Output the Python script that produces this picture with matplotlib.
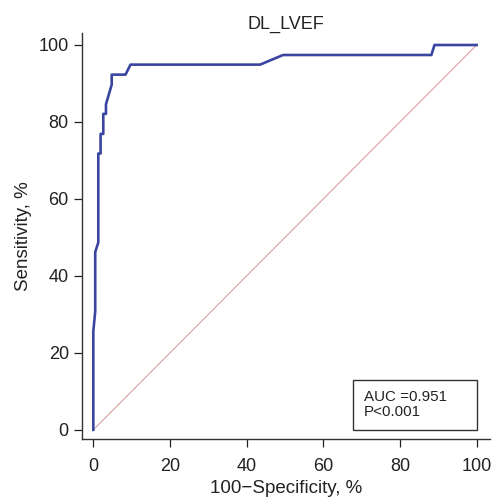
import matplotlib
matplotlib.use("Agg")
import matplotlib.pyplot as plt

plt.rcParams['font.family'] = ['Liberation Sans', 'DejaVu Sans']

# ROC curve points (100-specificity, sensitivity), in %
fpr = [0, 0, 0.5, 0.5, 1.3, 1.3, 1.9, 1.9, 2.6, 2.6, 3.3, 3.3, 4.8, 4.8,
       8.4, 9.7, 43.5, 49.5, 88.2, 89.0, 100]
tpr = [0, 25.6, 30.8, 46.2, 48.7, 71.8, 71.8, 76.9, 76.9, 82.1, 82.1, 84.6,
       89.7, 92.3, 92.3, 94.9, 94.9, 97.4, 97.4, 100, 100]
ticks = [0, 20, 40, 60, 80, 100]
title = 'DL_LVEF'
auc_text = 'AUC =0.951\nP<0.001'

fig = plt.figure(figsize=(4.94, 5.01), dpi=100)
ax = fig.add_axes([0.166, 0.124, 0.826, 0.810])

ax.plot([0, 100], [0, 100], color='#dc9f9f', lw=0.8, zorder=1)
ax.plot(fpr, tpr, color='#3a45a0', lw=1.9, zorder=2)

ax.set_xlim(-2.95, 103.5)
ax.set_ylim(-2.35, 103.1)
ax.set_xticks(ticks)
ax.set_yticks(ticks)
ax.tick_params(direction='out', length=5.5, width=0.9, labelsize=13, colors='#222222')
ax.tick_params(axis='x', pad=8)
ax.tick_params(axis='y', pad=4)
for s in ['top', 'right']:
    ax.spines[s].set_visible(False)
for s in ['left', 'bottom']:
    ax.spines[s].set_linewidth(1.0)
    ax.spines[s].set_color('#333333')

ax.set_xlabel('100\u2212Specificity, %', fontsize=13.5, labelpad=4, color='#222222')
ax.set_ylabel('Sensitivity, %', fontsize=13.5, labelpad=5, color='#222222')
ax.set_title(title, fontsize=13, pad=2, color='#222222')

ax.text(70.5, 6.6, auc_text, fontsize=10.9, va='center', ha='left', linespacing=1.05,
        color='#222222')
box = plt.Rectangle((67.8, 0), 32.2, 13.0, fill=False, lw=1.0, edgecolor='#333333')
ax.add_patch(box)

fig.savefig('out.png', dpi=100)
